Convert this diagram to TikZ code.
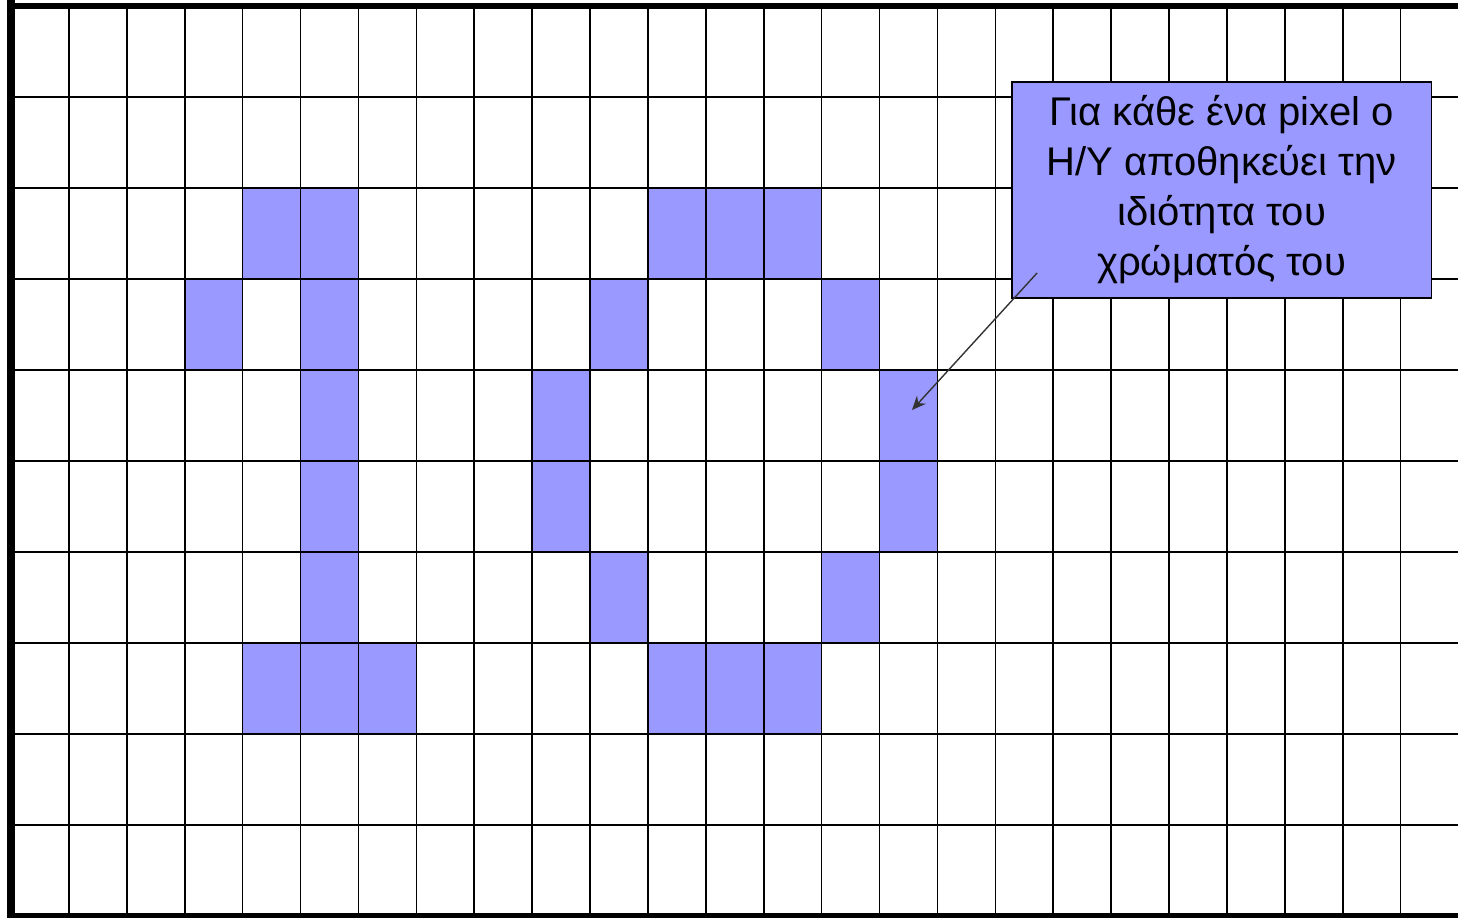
\documentclass[tikz,border=0pt]{standalone}
\usepackage{fontspec}
\setmainfont{Liberation Sans}
\usetikzlibrary{arrows.meta}
\definecolor{pixblue}{RGB}{153,153,255}
\tikzset{
  pix/.style={fill=pixblue},
  gridline/.style={line width=0.8pt},
  notebox/.style={draw, line width=0.6pt, fill=pixblue, minimum width=209.5pt, minimum height=108pt,
    align=center, inner sep=0pt, font=\fontsize{20}{25}\selectfont}
}
\begin{document}
\begin{tikzpicture}[x=28.95pt, y=-45.5pt, >={Stealth[length=7pt,width=6pt]}]
\useasboundingbox (-0.19,-0.066) rectangle (24.99,10.02);
% the pixels of "10"
\foreach \c/\r in {4/2,5/2,3/3,5/3,5/4,5/5,5/6,4/7,5/7,6/7,
    11/2,12/2,13/2,10/3,14/3,9/4,15/4,9/5,15/5,10/6,14/6,11/7,12/7,13/7}
{
    \fill[pix](\c,\r)rectangle++(1,1);
}
\foreach \x in {1,...,25}
    \draw[gridline](\x,0)--(\x,10);
\foreach \y in {1,...,9}
    \draw[gridline](0,\y)--(25,\y);
\draw[line width=3pt](25,0)--(0,0);
\draw[line width=3pt](0,10)--(25,10);
\draw[line width=4pt](0,-0.066)--(0,10.02);

\node[notebox](note) at (20.907,2.022){\raisebox{-2.5pt}{\begin{tabular}{@{}c@{}}Για κάθε ένα pixel ο\\H/Y αποθηκεύει την\\ιδιότητα του\\χρώματός του\end{tabular}}};
\coordinate (tail) at (17.72,2.934);
\coordinate (tip) at (15.56,4.44);
\draw[->, line width=0.7pt, black!80](tail)--(tip);

\end{tikzpicture}
\end{document}
